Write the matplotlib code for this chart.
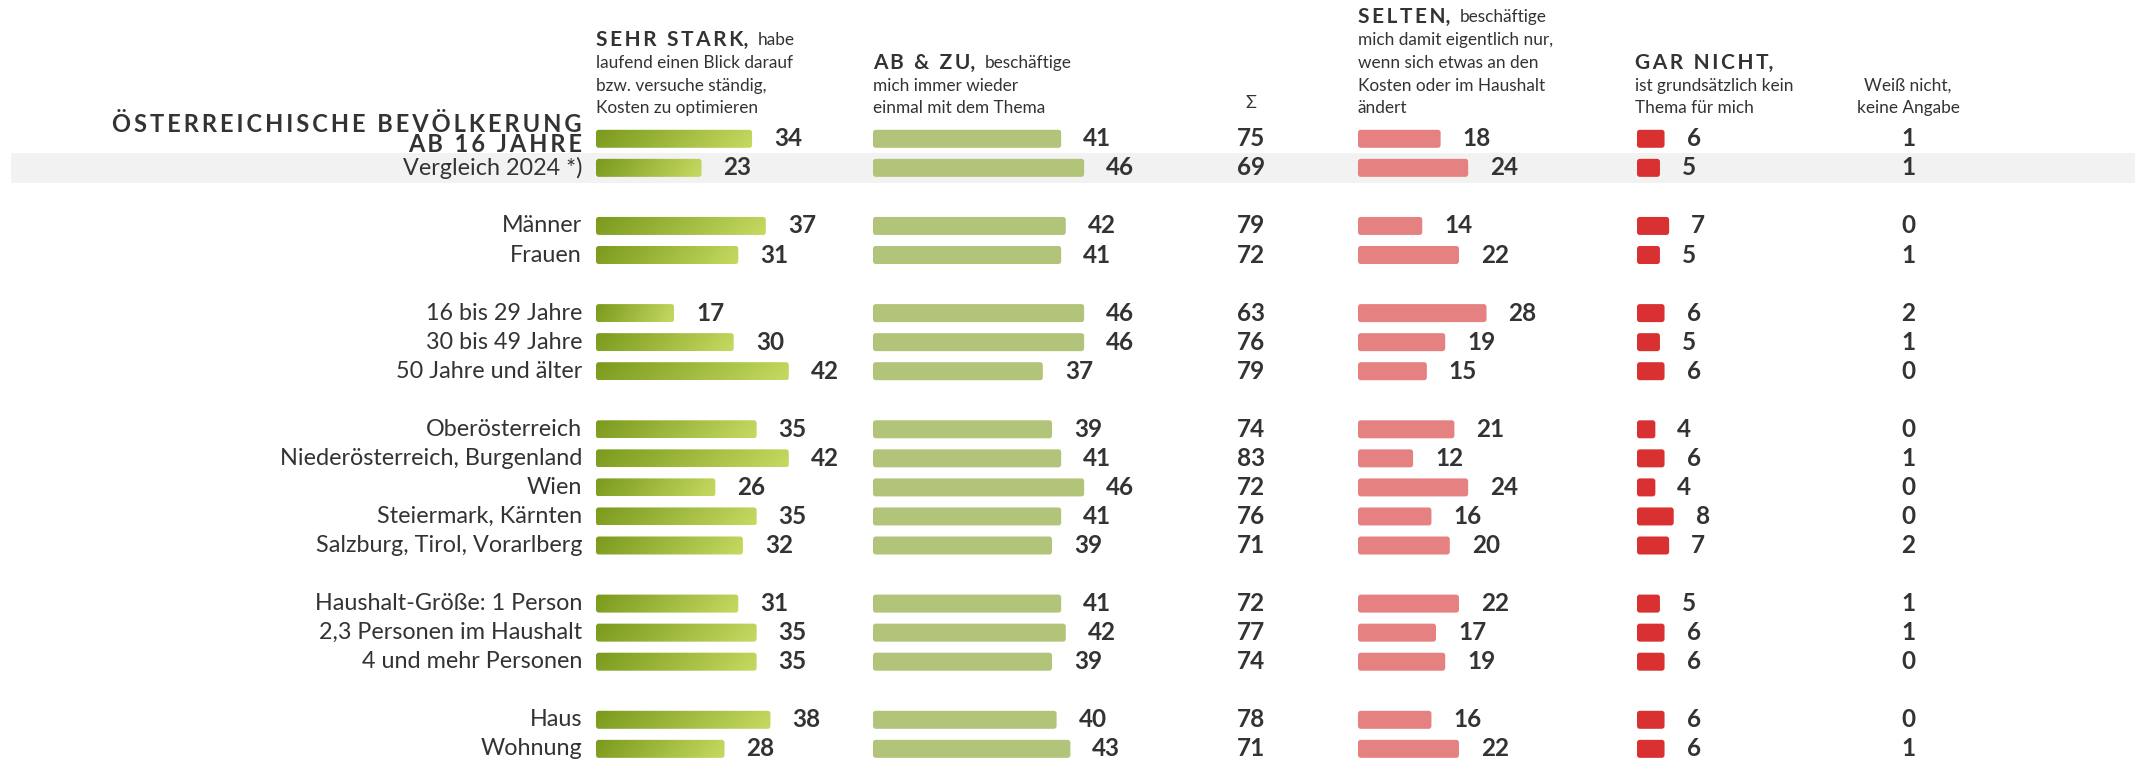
import numpy as np
import matplotlib
matplotlib.use("Agg")
import matplotlib.pyplot as plt
from matplotlib.colors import LinearSegmentedColormap
from matplotlib.patches import FancyBboxPatch

plt.rcParams['font.family'] = ['Lato', 'DejaVu Sans']

# Daten
kategorien = ["Vergleich 2024 *)",
              "Männer", "Frauen",
              "16 bis 29 Jahre", "30 bis 49 Jahre", "50 Jahre und älter",
              "Oberösterreich", "Niederösterreich, Burgenland", "Wien",
              "Steiermark, Kärnten", "Salzburg, Tirol, Vorarlberg",
              "Haushalt-Größe: 1 Person", "2,3 Personen im Haushalt", "4 und mehr Personen",
              "Haus", "Wohnung"]
gruppen = [2, 2, 3, 5, 3, 2]
sehr_stark = [34, 23, 37, 31, 17, 30, 42, 35, 42, 26, 35, 32, 31, 35, 35, 38, 28]
ab_und_zu = [41, 46, 42, 41, 46, 46, 37, 39, 41, 46, 41, 39, 41, 42, 39, 40, 43]
summe = [75, 69, 79, 72, 63, 76, 79, 74, 83, 72, 76, 71, 72, 77, 74, 78, 71]
selten = [18, 24, 14, 22, 28, 19, 15, 21, 12, 24, 16, 20, 22, 17, 19, 16, 22]
gar_nicht = [6, 5, 7, 5, 6, 5, 6, 4, 6, 4, 8, 7, 5, 6, 6, 6, 6]
weiss_nicht = [1, 1, 0, 1, 2, 1, 0, 0, 1, 0, 0, 2, 1, 1, 0, 0, 1]

TXT = '#333333'
W, H = 2142, 761
PX = 4.59          # Pixel pro Prozentpunkt
FILA0 = 138.8      # y der ersten Zeile (px)
PASO = 29.05       # Zeilenabstand (px)
y_top = -FILA0 / PASO
y_bot = (H - FILA0) / PASO

# Zeilenpositionen mit Leerzeile zwischen Gruppen
filas = []
pos = 0
for g in gruppen:
    filas.extend(range(pos, pos + g))
    pos += g + 1

fig = plt.figure(figsize=(W / 100, H / 100), dpi=100)
ax = fig.add_axes([0, 0, 1, 1])
ax.set_xlim(0, W)
ax.set_ylim(y_bot, y_top)
ax.axis('off')

# grauer Streifen Vergleich 2024
ax.axhspan(filas[1] - 0.52, filas[1] + 0.52, xmin=11 / W, xmax=2135 / W,
           color='#f2f2f2', zorder=0, lw=0)


def gesperrt(s):
    return '\u2009'.join(s)


# Zeilenbeschriftungen
ax.text(582, filas[0] - 0.5, gesperrt("ÖSTERREICHISCHE BEVÖLKERUNG"),
        ha='right', va='center', fontsize=17, fontweight='bold', color=TXT)
ax.text(582, filas[0] + 0.2, gesperrt("AB 16 JAHRE"),
        ha='right', va='center', fontsize=17, fontweight='bold', color=TXT)
for f, lab in zip(filas[1:], kategorien):
    ax.text(582, f, lab, ha='right', va='center', fontsize=16.8, color=TXT)


def spalte(x0, werte, farbe=None, cmap=None):
    a = fig.add_axes([x0 / W, 0, 62 * PX / W, 1])
    a.patch.set_visible(False)
    a.set_xlim(0, 62)
    a.set_ylim(y_bot, y_top)
    a.axis('off')
    bars = a.barh(filas, werte, height=0.62, color=farbe or 'none', zorder=2)
    for r in bars:
        r.set_visible(False)
        p = FancyBboxPatch((r.get_x(), r.get_y()), r.get_width(), r.get_height(),
                           boxstyle='round,pad=0,rounding_size=0.6',
                           mutation_aspect=PX / PASO,
                           fc=farbe if farbe else 'none', ec='none', zorder=2)
        a.add_patch(p)
        if cmap is not None:
            gx = np.linspace(0, 1, 256)
            gy = np.linspace(0, 1, 16)
            grad = gx[None, :] * 0.9 + gy[:, None] * 0.1
            im = a.imshow(grad, extent=(r.get_x(), r.get_x() + r.get_width(),
                                        r.get_y() + r.get_height(), r.get_y()),
                          aspect='auto', cmap=cmap, vmin=0, vmax=1, zorder=2,
                          interpolation='bilinear')
            im.set_clip_path(p)
    for f, v in zip(filas, werte):
        a.text(v + 4.8, f, str(v), ha='left', va='center', fontsize=17.5,
               fontweight='bold', color=TXT)
    a.set_xlim(0, 62)
    a.set_ylim(y_bot, y_top)
    return a


gruen = LinearSegmentedColormap.from_list('gruen', ['#7a9a1c', '#c6da62'])
spalte(596, sehr_stark, cmap=gruen)
spalte(873, ab_und_zu, farbe='#b1c47a')
spalte(1358, selten, farbe='#e68181')
spalte(1637, gar_nicht, farbe='#d93131')

for f, s, w in zip(filas, summe, weiss_nicht):
    ax.text(1251, f, str(s), ha='center', va='center', fontsize=17.5,
            fontweight='bold', color=TXT)
    ax.text(1908, f, str(w), ha='center', va='center', fontsize=17.5,
            fontweight='bold', color=TXT)

# Kopfzeilen
renderer = fig.canvas.get_renderer()
zeilen_y = [17, 40, 63, 86, 108]


def fy(y):
    return 1 - y / H


def kopf(x, zeile, fett, rest, weitere):
    t = fig.text(x / W, fy(zeilen_y[zeile]), gesperrt(fett) + ',', ha='left',
                 va='center', fontsize=15, fontweight='bold', color=TXT)
    if rest:
        bb = t.get_window_extent(renderer)
        fig.text((bb.x1 + 9) / W, fy(zeilen_y[zeile]), rest, ha='left',
                 va='center', fontsize=12.4, color=TXT)
    for i, z in enumerate(weitere):
        fig.text(x / W, fy(zeilen_y[zeile + 1 + i]), z, ha='left', va='center',
                 fontsize=12.4, color=TXT)


kopf(596, 1, "SEHR STARK", "habe",
     ["laufend einen Blick darauf", "bzw. versuche ständig,", "Kosten zu optimieren"])
kopf(873, 2, "AB & ZU", "beschäftige",
     ["mich immer wieder", "einmal mit dem Thema"])
kopf(1358, 0, "SELTEN", "beschäftige",
     ["mich damit eigentlich nur,", "wenn sich etwas an den",
      "Kosten oder im Haushalt", "ändert"])
kopf(1635, 2, "GAR NICHT", "",
     ["ist grundsätzlich kein", "Thema für mich"])
fig.text(1251 / W, fy(103), "Σ", ha='center', va='center', fontsize=13, color=TXT)
fig.text(1908 / W, fy(zeilen_y[3]), "Weiß nicht,", ha='center', va='center',
         fontsize=12.4, color=TXT)
fig.text(1908 / W, fy(zeilen_y[4]), "keine Angabe", ha='center', va='center',
         fontsize=12.4, color=TXT)

fig.savefig('out.png', dpi=100)
